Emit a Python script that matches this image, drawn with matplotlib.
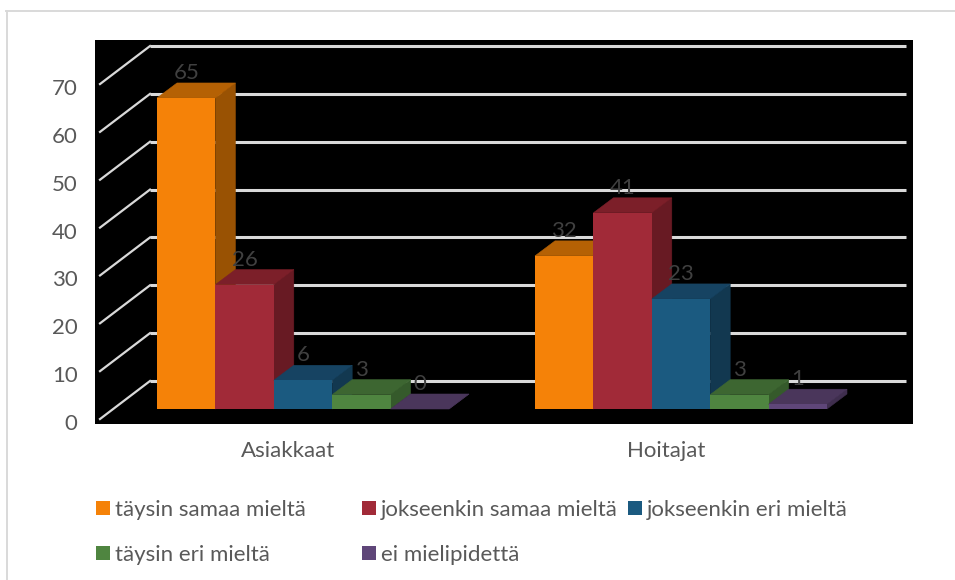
import matplotlib
matplotlib.use("Agg")
import matplotlib.pyplot as plt
from matplotlib.lines import Line2D
from matplotlib.patches import Polygon, Rectangle

# Survey answers per respondent group
groups = ["Asiakkaat", "Hoitajat"]
series_names = ["täysin samaa mieltä", "jokseenkin samaa mieltä", "jokseenkin eri mieltä",
                "täysin eri mieltä", "ei mielipidettä"]
taysin_samaa = [65, 32]
jokseenkin_samaa = [26, 41]
jokseenkin_eri = [6, 23]
taysin_eri = [3, 3]
ei_mielipidetta = [0, 1]
series_values = [taysin_samaa, jokseenkin_samaa, jokseenkin_eri, taysin_eri, ei_mielipidetta]
y_ticks = [0, 10, 20, 30, 40, 50, 60, 70]

front_colors = ["#F58208", "#A12A38", "#1B5A80", "#4F8540", "#5F4679"]
top_colors = ["#B56104", "#7C1F29", "#164362", "#3D6631", "#4A365B"]
side_colors = ["#995203", "#681A23", "#123850", "#355A2B", "#3F2E4E"]
TEXT = "#595959"
LABEL = "#404040"
GRID = "#D9D9D9"

W, H = 955, 580
FONT = 16
plt.rcParams["font.family"] = ["Lato", "DejaVu Sans"]
fig = plt.figure(figsize=(W / 100, H / 100), dpi=100, facecolor="white")

# Plot area placed in pixels; one value unit and one group step set the scales
left, right, top, bottom = 95, 913, 40, 424
ax = fig.add_axes([left / W, 1 - bottom / H, (right - left) / W, (bottom - top) / H])
PX_Y = 4.785
PX_X = 378.0
BASE_PX = 409
G0_PX = 303
ax.set_xlim((left - G0_PX) / PX_X, (right - G0_PX) / PX_X)
ax.set_ylim((BASE_PX - bottom) / PX_Y, (BASE_PX - top) / PX_Y)
ax.set_facecolor("black")
for s in ax.spines.values():
    s.set_visible(False)

# Perspective offsets of the 3D look, in data units
bar_w = 58.4 / PX_X
dx = 20 / PX_X
dy = 15 / PX_Y
wall_rise = 28 / PX_Y
floor_drop = 10 / PX_Y
wall_x = (150 - G0_PX) / PX_X
floor_x = (100 - G0_PX) / PX_X
wall_end = (906 - G0_PX) / PX_X

# Back-wall gridlines with their slanted side-wall segments
for v in y_ticks:
    yb = v + wall_rise
    ax.plot([wall_x, wall_end], [yb, yb], color=GRID, lw=2.2, zorder=1, solid_capstyle="butt")
    ax.plot([floor_x, wall_x], [v - floor_drop, yb], color=GRID, lw=1.6, zorder=1)

# Bars drawn left to right so each front covers its neighbour's side face
for g in range(len(groups)):
    for k, vals in enumerate(series_values):
        v = vals[g]
        z = 2 + g * 10 + k
        x0 = g + (k - 2.5) * bar_w
        x1 = x0 + bar_w
        ax.add_patch(Polygon([(x1, 0), (x1 + dx, dy), (x1 + dx, v + dy), (x1, v)],
                             closed=True, fc=side_colors[k], ec=side_colors[k], lw=0.4, zorder=z))
        ax.add_patch(Polygon([(x0, v), (x1, v), (x1 + dx, v + dy), (x0 + dx, v + dy)],
                             closed=True, fc=top_colors[k], ec=top_colors[k], lw=0.4, zorder=z))
        ax.bar(x0 + bar_w / 2, v, width=bar_w, color=front_colors[k], linewidth=0, zorder=z)

for g in range(len(groups)):
    for k, vals in enumerate(series_values):
        ax.text(g + (k - 2) * bar_w, vals[g] + 5.2, str(vals[g]), color=LABEL, fontsize=FONT,
                ha="center", va="center", zorder=50)

# Tick labels sit on the front edge of the floor rather than on the bar baseline
ax.set_yticks([v - 13 / PX_Y for v in y_ticks], [str(v) for v in y_ticks])
ax.set_xticks([g - 14.5 / PX_X for g in range(len(groups))], groups)
ax.tick_params(axis="y", length=0, pad=12.5, labelsize=FONT, labelcolor=TEXT)
ax.tick_params(axis="x", length=0, pad=12.5, labelsize=FONT, labelcolor=TEXT)


def fx(px):
    return px / W


def fy(px):
    return 1 - px / H


# Legend laid out by hand in two rows
swatch_x = [96, 362, 628, 96, 362]
swatch_y = [501, 501, 501, 546, 546]
for name, color, sx, sy in zip(series_names, front_colors, swatch_x, swatch_y):
    fig.add_artist(Rectangle((fx(sx), fy(sy + 14)), 14 / W, 14 / H, transform=fig.transFigure,
                             fc=color, ec="none"))
    fig.text(fx(sx + 19), fy(sy + 7), name, color=TEXT, fontsize=FONT, ha="left", va="center_baseline")

# Chart frame: only the top and left edges fall inside the canvas
fig.add_artist(Line2D([fx(7), fx(7)], [0, fy(11)], color=GRID, lw=1.4, transform=fig.transFigure))
fig.add_artist(Line2D([fx(6), 1], [fy(11), fy(11)], color=GRID, lw=1.4, transform=fig.transFigure))

fig.savefig("out.png", dpi=100, facecolor="white")
